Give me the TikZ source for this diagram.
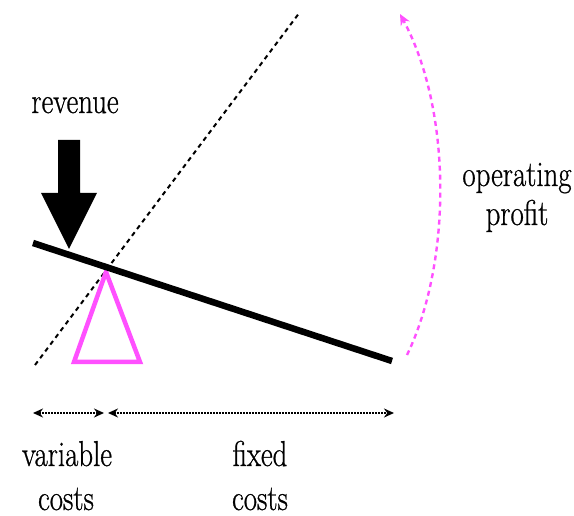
\documentclass[tikz,border=0pt]{standalone}
\usepackage{fontspec}
\setmainfont{Latin Modern Roman}
\newfontfamily\lblfont[FakeBold=0.8]{Latin Modern Roman}
\usetikzlibrary{arrows.meta}
\definecolor{pinkish}{RGB}{255,80,255}
% slightly condensed lettering
\newcommand\narrowtext[1]{\scalebox{0.8}[1]{#1}}
\begin{document}
\begin{tikzpicture}[x=1pt,y=-1pt,
  lbl/.style={font=\lblfont\fontsize{36}{40}\selectfont, inner sep=0pt, anchor=base},
  beam/.style={line width=6.5pt},
  pivotstyle/.style={draw=pinkish, line width=4.5pt, line join=miter},
  span/.style={densely dotted, line width=2pt, {Stealth[length=10pt,width=9pt]}-{Stealth[length=10pt,width=9pt]}},
  profitarc/.style={draw=pinkish, dashed, dash pattern=on 5pt off 4pt, line width=2.4pt, -{Stealth[length=11pt,width=10pt]}}]
  \useasboundingbox (0,0) rectangle (574,516);

  % reference line of the lever
  \draw[dashed, dash pattern=on 4.5pt off 4pt, line width=2pt] (35,365) -- (300,12);

  % fulcrum
  \draw[pivotstyle] (106,272) -- (140,362) -- (74,362) -- cycle;

  % lever beam
  \coordinate (beamL) at (33,243);
  \coordinate (beamR) at (392,361);
  \draw[beam] (beamL) -- (beamR);

  % revenue push
  \fill (58,140) -- (80,140) -- (80,193) -- (97,193) -- (69,249) -- (41,193) -- (58,193) -- cycle;
  \node[lbl] (rev) at (75,113) {\narrowtext{revenue}};

  % profit swing
  \coordinate (arcA) at (407,355);
  \coordinate (arcB) at (400,14);
  \draw[profitarc] (arcA) .. controls (452,262) and (452,110) .. (arcB);
  \node[lbl] (profitA) at (517,186) {\narrowtext{operating}};
  \node[lbl] (profitB) at (517,225) {\narrowtext{profit}};

  % cost spans
  \coordinate (v1) at (33,413);
  \coordinate (v2) at (104,413);
  \coordinate (f1) at (108,413);
  \coordinate (f2) at (394,413);
  \draw[span] (v1) -- (v2);
  \draw[span] (f1) -- (f2);
  \node[lbl] (varA) at (67,466) {\narrowtext{variable}};
  \node[lbl] (varB) at (66,510) {\narrowtext{costs}};
  \node[lbl] (fixA) at (260,466) {\narrowtext{fixed}};
  \node[lbl] (fixB) at (260,510) {\narrowtext{costs}};
\end{tikzpicture}
\end{document}
